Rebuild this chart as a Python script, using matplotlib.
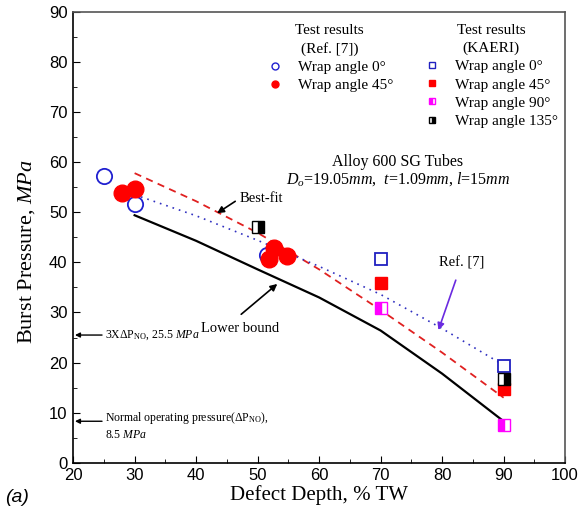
import matplotlib
matplotlib.use("Agg")
import matplotlib.pyplot as plt
from matplotlib.lines import Line2D
from matplotlib.ticker import MultipleLocator

plt.rcParams['font.family'] = ['Liberation Serif', 'DejaVu Serif']
plt.rcParams['mathtext.fontset'] = 'custom'
plt.rcParams['mathtext.rm'] = 'Liberation Serif'
plt.rcParams['mathtext.it'] = 'Liberation Serif:italic'

# Ref. [7] test results
ref_0_depth = [25, 30, 51.5]
ref_0_press = [57.2, 51.7, 41.5]
ref_45_depth = [28, 30, 52.7, 51.8, 54.7]
ref_45_press = [53.9, 54.6, 42.8, 40.6, 41.3]

# KAERI test results
k0_depth = [70, 90]
k0_press = [40.6, 19.4]
k45_depth = [70, 90]
k45_press = [35.9, 14.8]
k90_depth = [70, 90]
k90_press = [30.9, 7.5]
k135_depth = [50, 90]
k135_press = [47.1, 16.8]

# curves
best_depth = [30, 40, 50, 60, 70, 80, 90]
best_press = [57.8, 52.2, 45.9, 38.6, 30.5, 22.0, 13.0]
ref7_depth = [30, 40, 50, 60, 70, 80, 90]
ref7_press = [53.5, 49.3, 44.4, 39.2, 33.6, 26.8, 19.5]
lower_depth = [30, 40, 50, 60, 70, 80, 90]
lower_press = [49.4, 44.3, 38.6, 33.0, 26.4, 17.8, 8.3]

fig = plt.figure(figsize=(5.85, 5.12), dpi=100)
ax = fig.add_axes([0.125, 0.096, 0.841, 0.881])

ax.plot(lower_depth, lower_press, color='black', lw=1.6)
ax.plot(best_depth, best_press, color='#e02020', lw=1.3, ls=(0, (4, 3)))
ax.plot(ref7_depth, ref7_press, color='#3030c0', lw=1.2, ls=(0, (1, 3)))

ax.plot(ref_0_depth, ref_0_press, 'o', ms=11, mfc='white', mec='#2020d0', mew=1.3, ls='none')
ax.plot(ref_45_depth, ref_45_press, 'o', ms=12, mfc='red', mec='red', ls='none')
ax.plot(k0_depth, k0_press, 's', ms=9, mfc='white', mec='#2020c0', mew=1.3, ls='none')
ax.plot(k45_depth, k45_press, 's', ms=9, mfc='red', mec='red', ls='none')
ax.plot(k90_depth, k90_press, 's', ms=9, fillstyle='left', mfc='magenta',
        mfcalt='white', mec='magenta', mew=1.0, ls='none')
ax.plot(k135_depth, k135_press, 's', ms=9, fillstyle='right', mfc='black',
        mfcalt='white', mec='black', mew=1.0, ls='none')

ax.set_xlim(20, 100)
ax.set_ylim(0, 90)
ax.xaxis.set_major_locator(MultipleLocator(10))
ax.xaxis.set_minor_locator(MultipleLocator(5))
ax.yaxis.set_major_locator(MultipleLocator(10))
ax.yaxis.set_minor_locator(MultipleLocator(5))
ax.tick_params(which='both', direction='in', labelsize=12)
ax.tick_params(which='major', length=5)
ax.tick_params(which='minor', length=3)
ax.tick_params(axis='x', pad=4)
ax.tick_params(axis='y', pad=4)
for lab in ax.get_xticklabels() + ax.get_yticklabels():
    lab.set_fontfamily('Liberation Sans')
for sp in ax.spines.values():
    sp.set_linewidth(1.2)
ax.spines['right'].set_color('#555555')
ax.spines['top'].set_color('#555555')

ax.set_xlabel('Defect Depth, % TW', fontsize=15, labelpad=1)
ax.set_ylabel('Burst Pressure, $\\mathit{MPa}$', fontsize=16)
ax.yaxis.set_label_coords(-0.074, 0.468)

# legends
h1 = [Line2D([], [], marker='o', ms=5, mfc='white', mec='#2020d0', ls='none'),
      Line2D([], [], marker='o', ms=5, mfc='red', mec='red', ls='none')]
leg1 = ax.legend(h1, ['Wrap angle 0°', 'Wrap angle 45°'], title='Test results\n(Ref. [7])',
                 loc='upper left', bbox_to_anchor=(0.37, 0.997), frameon=False,
                 fontsize=11, title_fontsize=11, handlelength=1.2, handletextpad=0.9,
                 labelspacing=0.3, borderpad=0.2)
leg1.get_title().set_multialignment('center')
leg1.get_title().set_linespacing(1.45)
leg1._legend_box.align = 'center'
ax.add_artist(leg1)
h2 = [Line2D([], [], marker='s', ms=5, mfc='white', mec='#2020c0', ls='none'),
      Line2D([], [], marker='s', ms=5, mfc='red', mec='red', ls='none'),
      Line2D([], [], marker='s', ms=5, fillstyle='left', mfc='magenta', mfcalt='white',
             mec='magenta', ls='none'),
      Line2D([], [], marker='s', ms=5, fillstyle='right', mfc='black', mfcalt='white',
             mec='black', ls='none')]
leg2 = ax.legend(h2, ['Wrap angle 0°', 'Wrap angle 45°', 'Wrap angle 90°', 'Wrap angle 135°'],
                 title='Test results\n(KAERI)', loc='upper left', bbox_to_anchor=(0.69, 0.997),
                 frameon=False, fontsize=11, title_fontsize=11, handlelength=1.2,
                 handletextpad=0.9, labelspacing=0.3, borderpad=0.2)
leg2.get_title().set_multialignment('center')
leg2.get_title().set_linespacing(1.45)
leg2._legend_box.align = 'center'

ax.text(0.66, 0.668, 'Alloy 600 SG Tubes', transform=ax.transAxes, ha='center',
        va='center', fontsize=11.5)
ax.text(0.66, 0.628, '$D_o$=19.05$mm$,  $t$=1.09$mm$, $l$=15$mm$', transform=ax.transAxes,
        ha='center', va='center', fontsize=11.5)

# annotations
ax.annotate('Best-fit', xy=(43.4, 49.8), xytext=(47.0, 52.7), fontsize=10.5,
            va='center', ha='left',
            arrowprops=dict(arrowstyle='-|>', color='black', lw=1.2, shrinkA=1, shrinkB=0,
                            mutation_scale=10, relpos=(0, 0.5)))
ax.annotate('Lower bound', xy=(53.2, 35.7), xytext=(47.2, 26.9), fontsize=10.5,
            va='center', ha='center',
            arrowprops=dict(arrowstyle='-|>', color='black', lw=1.2, shrinkA=5, shrinkB=0,
                            mutation_scale=10, relpos=(0.4, 1.0)))
ax.annotate('Ref. [7]', xy=(79.4, 26.5), xytext=(83.2, 39.9), fontsize=10.5,
            va='center', ha='center',
            arrowprops=dict(arrowstyle='-|>', color='#6a2ae0', lw=1.2, shrinkA=6, shrinkB=0,
                            mutation_scale=10))

ax.annotate('', xy=(20.3, 25.5), xytext=(24.7, 25.5),
            arrowprops=dict(arrowstyle='-|>', color='black', lw=1.0, shrinkA=0, shrinkB=0,
                            mutation_scale=7))
ax.text(25.2, 25.5, '3XΔP$_{\\mathrm{NO}}$, 25.5 $\\mathit{MPa}$', fontsize=8.5, va='center')

ax.annotate('', xy=(20.3, 8.3), xytext=(24.7, 8.3),
            arrowprops=dict(arrowstyle='-|>', color='black', lw=1.0, shrinkA=0, shrinkB=0,
                            mutation_scale=7))
ax.text(25.2, 8.9, 'Normal operating pressure(ΔP$_{\\mathrm{NO}}$),', fontsize=8.5, va='center')
ax.text(25.2, 5.6, '8.5 $\\mathit{MPa}$', fontsize=8.5, va='center')

fig.text(0.008, 0.02, '(a)', fontsize=14, style='italic', family='Liberation Sans')

fig.savefig('out.png', dpi=100)
